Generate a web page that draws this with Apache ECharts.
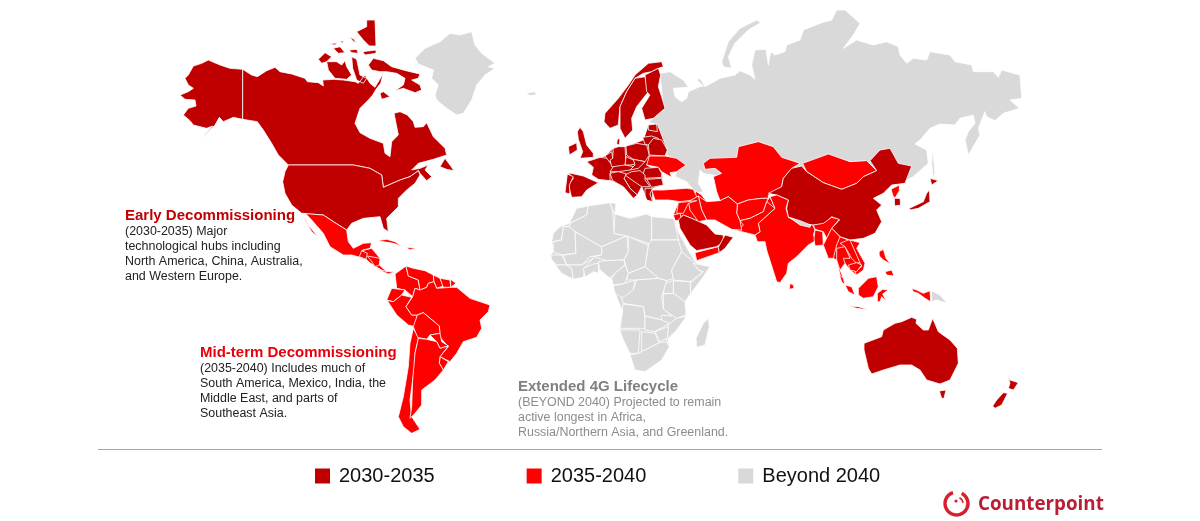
<!DOCTYPE html>
<html><head><meta charset="utf-8">
<style>html,body{margin:0;padding:0;background:#fff}#c{width:1200px;height:521px}</style>
<script src="https://cdn.jsdelivr.net/npm/echarts@6/dist/echarts.min.js"></script>
</head><body><div id="c"></div>
<script>
// ---- values: which rollout period each territory belongs to ----
const legendLabels = ['2030-2035','2035-2040','Beyond 2040'];
const tierColors = ['#C00000','#FF0000','#D9D9D9'];
const tier3 = ['Russia','Greenland','Africa land','Iceland','Novaya Zemlya','Sakhalin','Morocco','Algeria','Tunisia','Libya','Egypt','Sudan','Mauritania','Mali','Niger','Chad','Senegal','Guinea','Ivory Coast','Ghana','Nigeria','Cameroon','CAR','Gabon','Ethiopia','Somalia','Kenya','Uganda','DRC','Tanzania','Angola','Zambia','Mozambique','Zimbabwe','Namibia','Botswana','South Africa','Madagascar','Papua New Guinea','Nepal'];
const tier1 = ['Europe land','Canada','Alaska','USA','Norway','Sweden','Finland','Baltics','Lithuania','Denmark','UK','Ireland','France','Spain','Portugal','Benelux','Germany','Poland','Belarus','Czechia','Austria','Hungary','Italy','Romania','Balkans','Bulgaria','Greece','China','South Korea','Japan','Saudi Arabia','Oman','Australia','New Zealand'];
const tier2 = ['Middle East land','SE Asia land','Central America land','Mexico','Guatemala','Honduras','Panama','Cuba','Hispaniola','Colombia','Venezuela','Guyana','Suriname','French Guiana','Ecuador','Peru','Brazil','Bolivia','Paraguay','Uruguay','Chile','Argentina','Ukraine','Turkey','Kazakhstan','Mongolia','North Korea','India','NE India','Bangladesh','Myanmar','Thailand','Laos','Vietnam','Cambodia','Malaysia','Indonesia','Philippines','Sri Lanka','Afghanistan','Pakistan','Iran','Iraq','Syria','Levant','Yemen'];

// ---- text ----
const earlyTitle='Early Decommissioning';
const earlyLines=['(2030-2035) Major','technological hubs including','North America, China, Australia,','and Western Europe.'];
const midTitle='Mid-term Decommissioning';
const midLines=['(2035-2040) Includes much of','South America, Mexico, India, the','Middle East, and parts of','Southeast Asia.'];
const lateTitle='Extended 4G Lifecycle';
const lateLines=['(BEYOND 2040) Projected to remain','active longest in Africa,','Russia/Northern Asia, and Greenland.'];

// ---- map geometry (schematic outlines in this map's own plane) ----
const shapes={};
function S(name,ox,oy,flat){
  const ring=[];
  for(let i=0;i<flat.length;i+=2) ring.push([ox+flat[i]/3,-(oy+flat[i+1]/3)]);
  ring.push(ring[0].slice());
  (shapes[name]=shapes[name]||[]).push(ring);
}
const A=[170,0],B=[280,200],C=[530,50],D=[660,130],E=[530,190],F=[640,0],G=[840,280];
function SA(n,f){S(n,A[0],A[1],f)} function SB(n,f){S(n,B[0],B[1],f)} function SC(n,f){S(n,C[0],C[1],f)}
function SD(n,f){S(n,D[0],D[1],f)} function SE(n,f){S(n,E[0],E[1],f)} function SF(n,f){S(n,F[0],F[1],f)} function SG(n,f){S(n,G[0],G[1],f)}

// Russia first: lies beneath neighbours
SF('Russia',[60,220,90,215,130,240,145,262,100,265,105,290,125,305,140,295,145,275,175,262,190,258,170,240,180,235,195,260,240,235,285,225,300,212,330,225,345,238,335,195,345,150,378,148,385,195,392,155,405,165,435,155,440,135,480,120,490,90,545,68,575,60,590,30,615,30,660,70,640,105,610,145,650,120,700,135,740,125,775,140,780,165,800,190,820,175,860,180,870,155,930,165,945,185,995,195,1000,215,1060,215,1075,232,1085,210,1140,225,1145,295,1110,300,1138,325,1090,340,1065,362,1040,350,1035,335,1015,385,1020,405,985,465,975,420,985,395,1005,370,1000,345,960,355,945,375,900,372,870,385,840,420,825,432,860,450,865,490,820,530,800,540,700,560,400,560,300,540,190,520,180,510,175,550,190,575,170,580,140,545,105,530,120,490,80,465,40,420,40,370,25,368,70,325]);
SF('Novaya Zemlya',[245,185,265,125,300,85,350,60,362,68,325,90,285,130,265,170,275,205,250,200]);
SF('Sakhalin',[878,445,885,520,880,532,875,490]);
SC('Iceland',[-12,130,15,125,20,134,0,137]);
SA('Greenland',[735,175,765,145,810,125,840,100,870,105,905,95,915,135,935,160,975,190,955,200,975,205,945,225,920,255,905,300,880,340,860,345,830,325,800,300,795,285,805,255,785,235,790,210,745,192]);

// Land underlays: fill the slivers between schematic neighbours
SC('Europe land',[170,335,225,318,250,295,285,290,340,270,355,225,382,222,412,300,405,318,350,345,395,370,400,405,368,415,368,455,345,435,335,410,322,435,300,415,282,385,248,392,240,392,205,388,185,375,190,352]);
SD('Middle East land',[40,255,55,218,85,205,110,185,125,195,140,215,180,212,205,200,232,222,320,215,330,200,345,235,295,280,300,305,285,315,245,305,215,298,165,270,140,270,115,275,95,265,70,255,45,272]);
SD('SE Asia land',[515,295,540,320,565,330,600,338,590,355,615,400,610,420,590,435,570,420,555,400,540,420,552,450,555,465,545,455,530,390,520,385,505,385,490,345,500,325]);
SB('Central America land',[238,170,245,152,275,145,300,175,298,195,320,215,345,215,325,222,300,208,272,190,258,178]);

// North America
SA('Alaska',[218,208,180,205,150,195,115,180,95,190,70,198,55,225,45,235,55,255,70,265,55,275,30,285,45,298,75,300,78,318,55,325,40,345,60,362,70,375,90,380,110,385,128,378,100,408,72,420,105,405,135,375,148,352,160,365,190,352,218,358]);
SA('Canada',[218,208,245,225,262,230,290,212,315,202,330,215,365,222,405,235,412,245,445,248,460,258,458,240,490,238,520,240,555,245,565,250,585,225,600,250,615,262,640,220,632,250,620,265,608,285,595,300,570,325,555,370,570,398,600,415,640,430,645,460,660,470,665,425,685,405,672,340,690,335,712,345,730,365,735,382,760,380,770,368,790,410,825,445,830,465,790,478,745,490,725,510,750,505,775,495,765,510,785,530,770,542,750,520,745,512,720,530,690,540,640,562,635,525,600,505,550,495,355,495,350,490,325,465,305,430,280,390,262,365,218,358]);
SA('Canada',[595,195,610,175,640,182,665,200,700,210,720,215,750,222,745,235,725,240,750,255,755,270,735,278,700,265,675,272,700,255,705,235,680,220,650,215,630,215,605,210]);
SA('Canada',[630,280,640,275,660,290,635,298]);
SA('Canada',[560,95,590,80,590,60,615,60,618,138,598,138,580,120]);
SA('Canada',[470,185,500,185,515,195,525,182,530,200,545,225,530,238,495,235,475,210]);
SA('Canada',[445,178,465,158,485,170,470,185,455,190]);
SA('Canada',[578,155,618,150,618,160,585,165]);
SA('Canada',[545,170,560,178,570,225,590,235,580,250,560,240,548,205]);
SA('Canada',[478,133,500,128,495,135]);
SA('Canada',[490,145,510,140,525,158,505,160]);
SA('Canada',[510,125,520,122,518,130]);
SA('Canada',[540,110,552,118,560,130,548,122]);
SA('Canada',[538,150,560,148,565,160,545,158]);
SA('Canada',[810,500,825,475,840,495,852,512,830,508]);
SA('USA',[355,495,550,495,600,505,635,525,640,562,690,540,720,530,745,512,750,525,735,550,710,570,685,595,685,620,650,655,655,695,640,685,630,650,580,655,545,670,530,690,490,665,460,645,395,640,365,615,345,580,338,545,345,515]);

// Central and South America
SB('Mexico',[65,40,130,45,160,65,200,90,205,125,220,145,250,130,275,128,270,145,248,150,240,172,215,165,190,165,150,140,130,100,95,60,78,42]);
SB('Mexico',[70,42,85,75,115,112,95,95,78,65]);
SB('Guatemala',[238,170,245,152,262,160,258,178]);
SB('Honduras',[262,168,300,175,298,195,285,200,272,180]);
SB('Panama',[285,200,305,210,320,215,345,215,325,222,310,215]);
SB('Cuba',[292,122,320,118,345,125,365,138,340,130]);
SB('Hispaniola',[378,142,408,145,390,150]);
SB('Colombia',[378,198,345,222,350,265,375,270,398,290,405,265,420,270,415,240,385,228]);
SB('Venezuela',[378,198,385,228,415,240,420,270,440,262,445,250,462,245,460,225,435,212,400,205]);
SB('Guyana',[460,225,480,235,490,258,470,265,462,245]);
SB('Suriname',[480,235,510,240,512,262,490,262]);
SB('French Guiana',[512,238,528,250,512,262]);
SB('Ecuador',[335,265,375,270,365,285,340,305,320,300]);
SB('Peru',[322,302,340,305,365,285,395,292,378,320,395,345,412,345,405,380,385,375,350,345]);
SB('Brazil',[398,290,405,265,420,270,440,262,445,250,462,245,470,265,512,262,530,262,570,295,630,315,625,335,600,360,605,385,590,412,550,425,530,460,510,485,480,470,505,440,480,412,478,378,430,338,412,345,395,345,378,320]);
SB('Bolivia',[412,345,430,338,478,378,480,400,450,405,440,418,412,412,400,380]);
SB('Paraguay',[450,405,480,400,485,425,505,438,480,445,470,425]);
SB('Uruguay',[480,470,505,485,490,510,478,490]);
SB('Chile',[400,385,415,415,405,460,405,500,398,540,390,600,395,650,420,688,395,700,370,680,355,650,370,590,385,500,390,430]);
SB('Argentina',[415,415,440,418,470,425,480,445,505,438,480,470,478,490,490,510,465,540,425,570,425,615,405,640,390,655,395,620,398,540,405,460]);

// Europe
SC('Norway',[225,190,265,145,295,105,315,75,355,40,395,35,400,50,385,55,365,65,340,70,315,85,290,125,270,170,265,225,240,235,222,215]);
SC('Sweden',[270,170,290,125,315,85,345,80,355,125,320,170,305,205,308,240,285,265,270,235]);
SC('Finland',[345,75,365,65,385,55,392,75,385,110,395,140,405,175,370,205,345,210,335,175,360,135,350,125]);
SC('Baltics',[355,225,380,222,382,245,355,240]);
SC('Lithuania',[338,262,365,258,385,265,370,288,345,283]);
SC('Denmark',[262,268,270,265,268,285,260,282]);
SC('UK',[150,232,160,245,170,285,190,310,190,322,150,325,158,305,145,268,142,245]);
SC('Ireland',[115,290,140,278,142,300,118,315]);
SC('France',[170,335,210,322,235,325,250,352,240,372,240,392,205,388,185,375,190,352]);
SC('Spain',[115,368,160,378,205,398,170,420,155,440,125,442,115,405,130,385]);
SC('Portugal',[112,372,130,380,118,405,120,432,105,428]);
SC('Benelux',[225,318,245,305,248,325,240,338]);
SC('Germany',[250,295,265,290,285,290,288,345,275,355,245,350,240,330,248,325]);
SC('Poland',[288,288,320,280,350,285,358,315,345,335,310,328,290,315]);
SC('Belarus',[355,285,370,265,395,270,412,300,405,318,358,315]);
SC('Ukraine',[358,318,405,318,440,325,468,345,440,365,420,368,425,382,395,365,385,352,350,345]);
SC('Czechia',[288,320,310,330,325,340,300,345,285,345]);
SC('Austria',[250,350,285,345,310,350,300,360,265,365,240,365]);
SC('Hungary',[310,328,345,335,335,345,325,355,300,360,315,345]);
SC('Italy',[240,370,265,365,290,372,282,385,300,415,322,435,310,445,280,410,248,392]);
SC('Romania',[345,355,385,352,395,370,395,382,345,385,340,370]);
SC('Balkans',[285,375,305,365,330,362,345,375,345,390,360,410,335,410,320,400]);
SC('Bulgaria',[350,388,395,385,400,405,365,412]);
SC('Greece',[345,415,368,415,360,432,368,455,350,450,345,435]);
SC('Turkey',[365,420,400,420,470,415,490,418,500,440,490,450,450,455,415,450,375,450]);

// Asia
SD('Kazakhstan',[130,100,150,85,230,82,235,50,295,35,340,50,365,82,390,90,420,100,395,115,370,145,365,170,325,195,325,205,305,205,265,210,232,222,205,200,180,212,170,185,160,140,185,130,165,115,135,118]);
SD('Mongolia',[428,100,505,72,570,95,620,92,650,122,610,140,590,160,545,178,490,158,440,125]);
SD('China',[425,108,440,125,490,158,545,178,590,160,610,140,650,122,630,92,660,60,690,55,715,100,755,108,735,160,695,165,670,190,640,205,665,225,650,240,665,275,645,310,610,325,570,330,540,320,515,295,538,270,515,260,490,285,458,285,420,280,385,262,380,235,385,210,350,195,325,190,365,170,370,145,395,115]);
SD('North Korea',[693,178,718,165,718,182,706,203,700,200]);
SD('South Korea',[703,205,720,205,722,225,704,228]);
SD('Japan',[748,235,790,215,800,190,808,180,810,215,775,235,750,240]);
SD('Japan',[810,145,835,152,815,165]);
SD('India',[330,200,350,195,385,210,378,235,385,262,420,280,458,285,465,300,460,315,470,330,445,345,410,380,385,400,380,430,360,458,350,455,320,360,315,335,292,335,285,315,300,305,295,280,345,235]);
SD('Nepal',[388,262,420,272,452,285,450,292,420,285]);
SD('NE India',[460,285,490,280,515,262,538,268,515,295,500,325,490,305,465,298]);
SD('Bangladesh',[465,300,488,305,490,345,465,348,462,325]);
SD('Myanmar',[515,295,540,320,530,345,520,385,505,385,490,345,500,325]);
SD('Thailand',[530,355,555,350,570,385,550,385,555,400,540,420,530,390]);
SD('Laos',[540,340,565,330,600,338,590,355,610,395,590,400,575,385,555,350]);
SD('Vietnam',[570,330,600,338,590,355,615,400,610,420,590,435,585,425,605,410]);
SD('Cambodia',[565,405,590,398,605,405,590,425,570,420]);
SD('Malaysia',[538,435,550,445,555,465,545,455]);
SD('Indonesia',[555,465,575,470,585,495,565,485]);
SD('Indonesia',[595,475,625,445,650,440,655,470,640,500,610,505,595,495]);
SD('Indonesia',[652,490,668,478,685,480,668,492,680,515,665,500,660,515,652,515]);
SD('Indonesia',[565,528,595,530,628,540,590,535]);
SD('Indonesia',[755,475,770,480,790,490,810,482,812,515,795,505,775,490,760,485]);
SD('Papua New Guinea',[815,482,840,495,862,520,830,510,815,515]);
SD('Philippines',[657,365,670,358,678,385,692,402,670,390,658,378]);
SD('Philippines',[675,425,695,420,702,438,680,435]);
SD('Sri Lanka',[390,460,400,465,402,475,388,478]);
SD('Afghanistan',[232,222,265,210,305,205,325,205,320,215,310,245,270,265,240,272,230,250]);
SD('Pakistan',[320,215,345,235,295,280,300,305,285,315,245,305,240,295,250,285,240,272,270,265,310,245]);
SD('Iran',[115,198,140,215,180,212,205,200,232,222,230,250,240,272,245,300,215,298,165,270,140,270,125,240]);
SD('Iraq',[85,215,115,198,125,240,140,270,115,275,90,240]);
SD('Syria',[55,218,110,212,85,220,70,250,50,250]);
SD('Levant',[40,255,60,250,65,270,45,272]);
SD('Saudi Arabia',[55,270,70,255,95,265,140,285,165,312,190,315,190,335,170,350,110,362,90,345,60,295]);
SD('Yemen',[105,368,175,350,178,368,110,392]);
SD('Oman',[175,352,195,315,220,322,195,355,178,368]);

// Africa
SE('Africa land',[65,155,70,130,90,110,118,100,140,55,165,48,240,38,248,60,255,72,300,85,350,72,365,80,420,85,432,85,445,125,480,190,500,220,540,230,520,260,490,300,465,335,470,375,440,420,415,445,418,470,395,510,345,545,315,540,300,490,280,450,268,420,278,365,255,310,245,265,210,240,190,245,130,268,95,250,65,210,62,195,70,185]);
SE('Morocco',[65,155,70,130,90,110,118,100,140,55,175,48,170,75,120,100,118,110,100,110,95,150,70,155]);
SE('Algeria',[120,100,170,75,175,48,240,38,248,60,252,130,290,138,215,170,205,165,135,125,118,110]);
SE('Tunisia',[240,38,258,40,255,72,248,60]);
SE('Libya',[255,72,300,85,350,72,365,80,365,150,360,162,290,138,252,130]);
SE('Egypt',[365,80,420,85,432,85,445,150,365,150]);
SE('Sudan',[365,150,445,150,455,185,425,240,430,265,410,272,385,265,345,230,355,165]);
SE('Mauritania',[70,155,95,150,100,110,118,110,135,125,138,190,95,195,70,185]);
SE('Mali',[135,125,205,165,215,170,215,195,180,200,155,225,110,225,100,195,138,190]);
SE('Niger',[215,170,290,138,295,185,282,210,230,212,190,200,215,195]);
SE('Chad',[295,140,355,165,345,230,320,240,295,250,282,210,295,185]);
SE('Senegal',[62,195,95,195,110,225,80,225,65,210]);
SE('Guinea',[65,210,80,225,110,225,125,235,130,268,95,250]);
SE('Ivory Coast',[110,225,155,225,190,205,165,232,160,262,130,268,125,235]);
SE('Ghana',[160,235,190,222,205,220,205,250,190,245,165,262]);
SE('Nigeria',[205,215,230,212,282,210,285,225,255,250,240,265,210,240]);
SE('Cameroon',[285,225,295,250,285,280,250,285,245,265,255,250]);
SE('CAR',[295,250,345,230,385,265,320,270,290,270]);
SE('Gabon',[250,288,285,280,315,270,310,300,280,325,255,310]);
SE('Ethiopia',[455,185,490,215,505,240,520,245,480,275,430,270,425,240]);
SE('Somalia',[490,220,540,230,520,260,490,300,480,315,482,280,520,245,505,240]);
SE('Kenya',[430,272,480,275,482,310,465,335,430,310]);
SE('Uganda',[405,280,430,272,430,310,400,310]);
SE('DRC',[320,270,385,265,410,272,395,320,400,355,425,378,395,375,395,390,345,378,340,350,280,340,275,325,310,300]);
SE('Tanzania',[400,312,430,310,465,335,468,375,440,385,400,358]);
SE('Angola',[278,342,340,350,345,380,345,415,270,415,278,365]);
SE('Zambia',[345,378,395,390,418,400,375,425,345,420]);
SE('Mozambique',[440,385,470,378,440,420,415,445,418,470,410,450,415,405,425,395]);
SE('Zimbabwe',[375,425,415,410,412,445,388,455]);
SE('Namibia',[270,420,330,420,325,490,300,490,280,450]);
SE('Botswana',[335,425,375,430,388,458,335,485]);
SE('South Africa',[325,490,388,458,410,455,418,470,395,510,345,545,315,540,300,495]);
SE('Madagascar',[520,400,535,385,538,410,525,465,500,472,498,445]);

// Oceania
SG('Australia',[72,190,125,170,130,150,165,130,185,125,215,112,230,118,228,130,250,150,265,150,278,115,295,155,330,180,352,205,355,250,330,300,300,312,260,300,240,270,215,255,180,255,130,270,95,282,85,265,72,210]);
SG('Australia',[298,333,318,330,312,355,305,355]);
SG('New Zealand',[503,285,510,300,535,308,520,330,505,325,510,310]);
SG('New Zealand',[490,338,503,340,485,375,465,385,458,378,470,360]);

const geojson={type:'FeatureCollection',features:Object.keys(shapes).map(n=>({type:'Feature',properties:{name:n},geometry:{type:'MultiPolygon',coordinates:shapes[n].map(r=>[r])}}))};
echarts.registerMap('w4g',geojson);

const mapData=[].concat(
  tier1.map(name=>({name,value:1})),
  tier2.map(name=>({name,value:2})),
  tier3.map(name=>({name,value:3}))
);

const FONT='"Liberation Sans", Arial, sans-serif';
function block(x,y,title,lines,titleColor,bodyColor){
  const els=[{type:'text',left:x,top:y-7,silent:true,style:{text:title,font:'bold 15px '+FONT,fill:titleColor}}];
  lines.forEach((t,i)=>els.push({type:'text',left:x,top:y+11+i*15,silent:true,style:{text:t,font:'12.45px '+FONT,fill:bodyColor}}));
  return els;
}
const chart=echarts.init(document.getElementById('c'),null,{renderer:'canvas'});
chart.setOption({
  animation:false,
  backgroundColor:'#fff',
  visualMap:{type:'piecewise',orient:'horizontal',left:300,top:451,itemWidth:15,itemHeight:15,itemGap:92,textGap:9,itemSymbol:'rect',hoverLink:false,selectedMode:false,
    textStyle:{fontFamily:FONT,fontSize:20,color:'#111'},
    pieces:legendLabels.map((label,i)=>({value:i+1,label,color:tierColors[i]}))},
  series:[{type:'map',map:'w4g',aspectScale:1,roam:false,silent:true,
    boundingCoords:[[0,0],[1200,-521]],left:0,top:0,width:1200,height:521,
    label:{show:false},
    itemStyle:{borderColor:'#fff',borderWidth:0.8},
    emphasis:{disabled:true},select:{disabled:true},
    data:mapData}],
  graphic:[].concat(
    block(125,215,earlyTitle,earlyLines,'#C00000','#222'),
    block(200,352,midTitle,midLines,'#E8000A','#222'),
    block(518,386,lateTitle,lateLines,'#808080','#8C8C8C'),
    [{type:'line',silent:true,shape:{x1:98,y1:449.5,x2:1102,y2:449.5},style:{stroke:'#A6A6A6',lineWidth:1}},
     {type:'arc',silent:true,shape:{cx:956.5,cy:503.5,r:11.5,startAngle:-1.1,endAngle:4.4},style:{stroke:'#D8202C',lineWidth:3.4,fill:null}},
     {type:'circle',silent:true,shape:{cx:956,cy:501,r:1.6},style:{fill:'#D8202C'}},
     {type:'arc',silent:true,shape:{cx:956.5,cy:503.5,r:6.5,startAngle:-1.1,endAngle:-0.1},style:{stroke:'#D8202C',lineWidth:1.5,fill:null}},
     {type:'text',left:978,top:495,silent:true,style:{text:'Counterpoint',font:'bold 18.8px "Open Sans", sans-serif',fill:'#B81E34'}}]
  )
});
</script></body></html>
